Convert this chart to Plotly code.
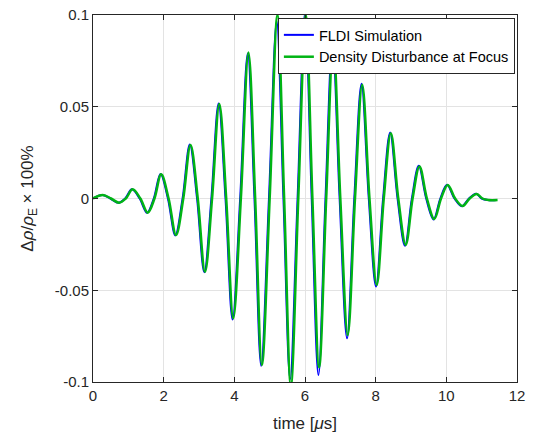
import plotly.graph_objects as go

# Extrema and zero crossings (time in µs, value)
t_green = [0.00, 0.28, 0.51, 0.74, 0.93, 1.12, 1.34, 1.55, 1.74, 1.93, 2.14, 2.35, 2.555,
           2.76, 2.965, 3.17, 3.37, 3.575, 3.77, 3.97, 4.185, 4.40, 4.59, 4.78, 5.00,
           5.22, 5.41, 5.60, 5.81, 6.02, 6.21, 6.40, 6.60, 6.80, 7.00, 7.21, 7.415,
           7.62, 7.825, 8.03, 8.23, 8.43, 8.64, 8.85, 9.045, 9.24, 9.45, 9.66, 9.85,
           10.04, 10.25, 10.46, 10.66, 10.86, 11.02, 11.19, 11.45]
y_green = [0.0, 0.0019, 0.0, -0.0023, 0.0, 0.0050, 0.0, -0.0077, 0.0, 0.0132, 0.0, -0.0199, 0.0,
           0.0292, 0.0, -0.0399, 0.0, 0.0515, 0.0, -0.0653, 0.0, 0.0795, 0.0, -0.0907, 0.0,
           0.1000, 0.0, -0.1020, 0.0, 0.1000, 0.0, -0.0920, 0.0, 0.0850, 0.0, -0.0744, 0.0,
           0.0620, 0.0, -0.0471, 0.0, 0.0355, 0.0, -0.0253, 0.0, 0.0175, 0.0, -0.0112, 0.0,
           0.0074, 0.0, -0.0041, 0.0, 0.0025, 0.0, -0.0008, -0.0008]

t_blue = [0.00, 0.26, 0.49, 0.72, 0.91, 1.10, 1.32, 1.53, 1.72, 1.91, 2.12, 2.33, 2.535,
          2.74, 2.945, 3.15, 3.35, 3.555, 3.75, 3.95, 4.165, 4.38, 4.57, 4.76, 4.98,
          5.20, 5.39, 5.58, 5.79, 6.00, 6.19, 6.38, 6.58, 6.78, 6.98, 7.19, 7.395,
          7.60, 7.805, 8.01, 8.21, 8.41, 8.62, 8.83, 9.025, 9.22, 9.43, 9.64, 9.83,
          10.02, 10.23, 10.44, 10.64, 10.84, 11.00, 11.17, 11.43]
y_blue = [0.0, 0.0019, 0.0, -0.0023, 0.0, 0.0050, 0.0, -0.0078, 0.0, 0.0133, 0.0, -0.0201, 0.0,
          0.0294, 0.0, -0.0402, 0.0, 0.0518, 0.0, -0.0660, 0.0, 0.0790, 0.0, -0.0912, 0.0,
          0.0965, 0.0, -0.0984, 0.0, 0.1010, 0.0, -0.0962, 0.0, 0.0860, 0.0, -0.0762, 0.0,
          0.0625, 0.0, -0.0480, 0.0, 0.0360, 0.0, -0.0258, 0.0, 0.0178, 0.0, -0.0114, 0.0,
          0.0075, 0.0, -0.0042, 0.0, 0.0026, 0.0, -0.0008, -0.0008]

x_ticks = [0, 2, 4, 6, 8, 10, 12]
y_ticks = [-0.1, -0.05, 0, 0.05, 0.1]
y_ticktext = ["-0.1", "-0.05", "0", "0.05", "0.1"]

FONT = "Liberation Sans, Arial, sans-serif"

fig = go.Figure()
fig.add_trace(go.Scatter(x=t_blue, y=y_blue, mode="lines", name="FLDI Simulation",
                         line=dict(color="#0000ff", width=2, shape="spline", smoothing=1.0)))
fig.add_trace(go.Scatter(x=t_green, y=y_green, mode="lines", name="Density Disturbance at Focus",
                         line=dict(color="#00b414", width=2.5, shape="spline", smoothing=1.0)))

axis_common = dict(showline=True, linecolor="#262626", linewidth=1, mirror="ticks",
                   ticks="inside", ticklen=5, tickcolor="#262626",
                   showgrid=True, gridcolor="#e3e3e3", gridwidth=1, zeroline=False,
                   tickfont=dict(family=FONT, size=15, color="#262626"))

fig.update_xaxes(range=[0, 12], tickvals=x_ticks, automargin=False,
                 title=dict(text="time [<i>μ</i>s]", standoff=14,
                            font=dict(family=FONT, size=17, color="#262626")),
                 **axis_common)
fig.update_yaxes(range=[-0.1, 0.1], tickvals=y_ticks, ticktext=y_ticktext, automargin=False,
                 title=dict(text="Δ<i>ρ</i>/<i>ρ</i><sub>E</sub> × 100%", standoff=16,
                            font=dict(family=FONT, size=17, color="#262626")),
                 **axis_common)

fig.update_layout(
    width=534, height=437,
    margin=dict(l=93, r=17, t=15, b=55),
    paper_bgcolor="white", plot_bgcolor="white",
    showlegend=True,
    legend=dict(x=0.995, y=0.992, xanchor="right", yanchor="top",
                bgcolor="white", bordercolor="#262626", borderwidth=1,
                font=dict(family=FONT, size=14.5, color="black"),
                itemwidth=30, tracegroupgap=0),
)

fig.write_html("out.html")
